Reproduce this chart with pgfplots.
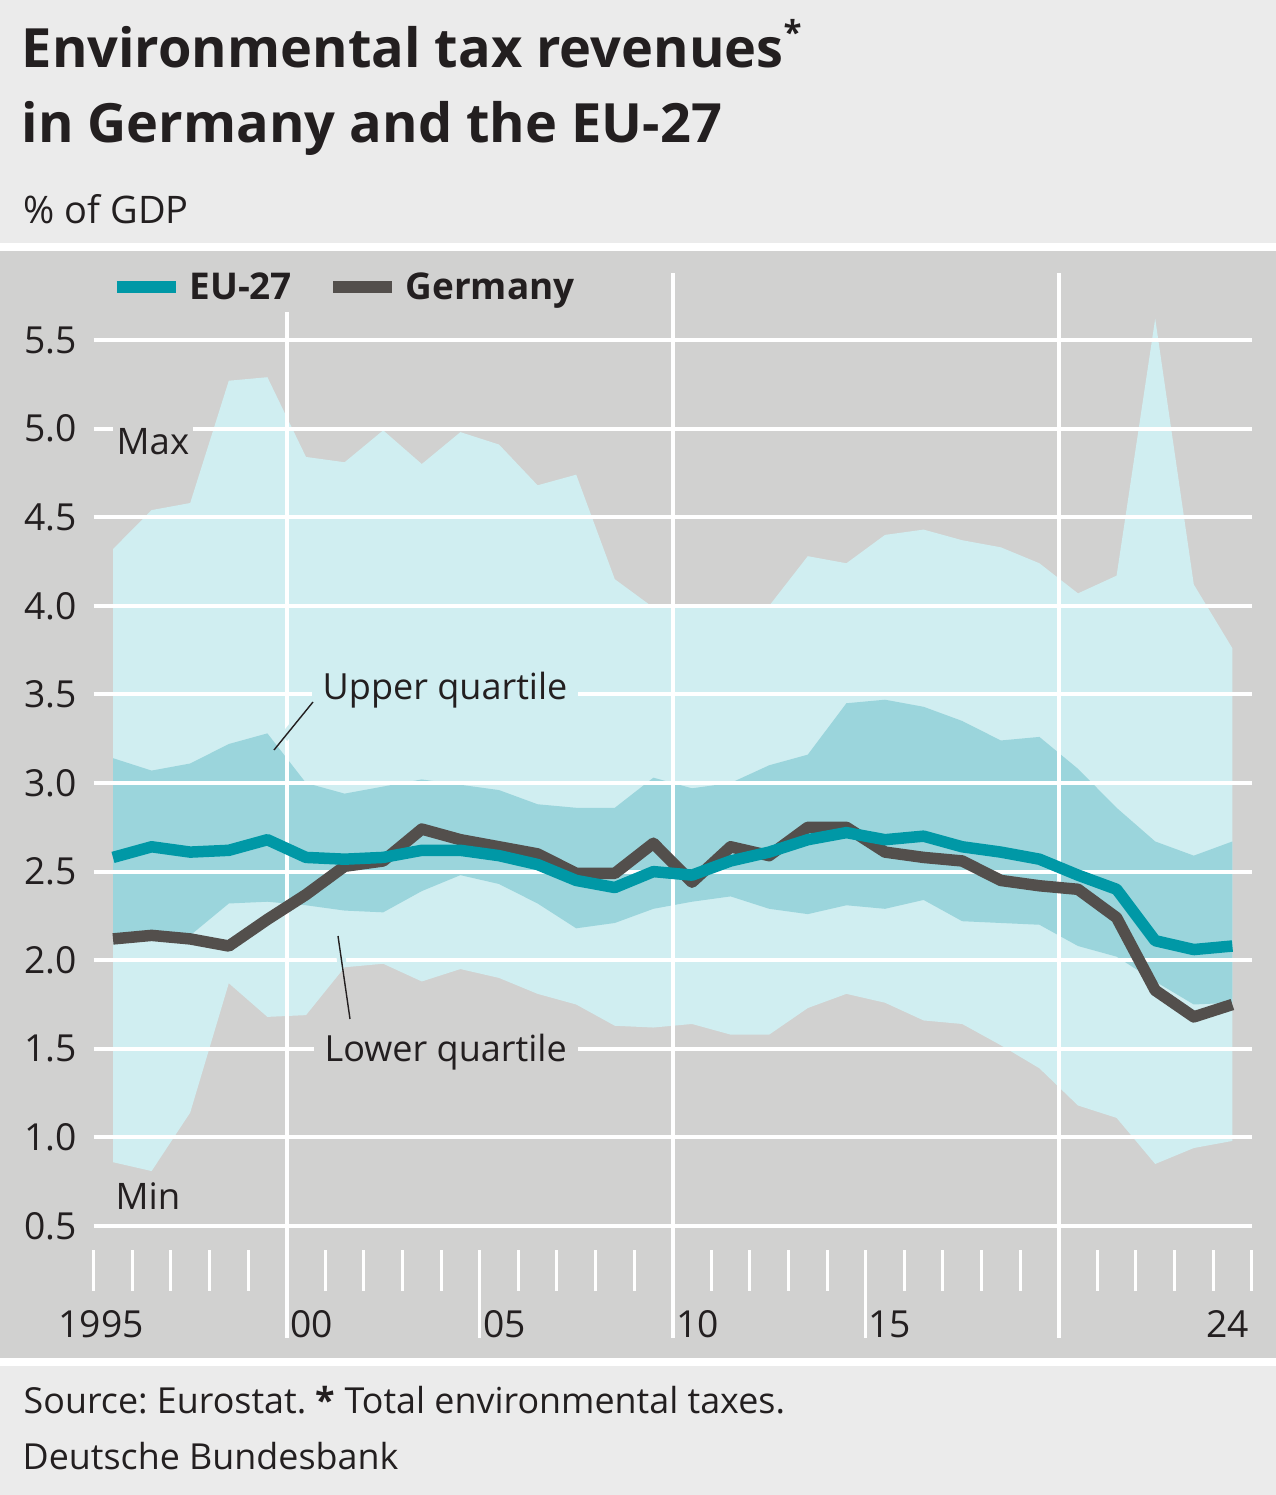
\documentclass[border=0pt]{standalone}
\usepackage{fontspec}
\setmainfont{Open Sans}
\usepackage{pgfplots}
\usepackage{pgfplotstable}
\pgfplotsset{compat=1.18}
\usepgfplotslibrary{fillbetween}
\frenchspacing

\definecolor{pagebg}{HTML}{EBEBEB}
\definecolor{panel}{HTML}{D1D1D0}
\definecolor{lightc}{HTML}{D0EEF1}
\definecolor{medc}{HTML}{9BD5DC}
\definecolor{euc}{HTML}{0098A6}
\definecolor{dec}{HTML}{534F4C}
\definecolor{txt}{HTML}{231F20}
\newcommand{\fs}[1]{\fontsize{#1}{#1}\selectfont}

\pgfplotstableread{
year  mx    mn    uq    lq    eu    de
1995  4.32  0.86  3.14  2.11  2.58  2.12
1996  4.54  0.81  3.07  2.13  2.64  2.14
1997  4.58  1.14  3.11  2.14  2.61  2.12
1998  5.27  1.87  3.22  2.32  2.62  2.08
1999  5.29  1.68  3.28  2.33  2.68  2.23
2000  4.84  1.69  3.00  2.31  2.58  2.37
2001  4.81  1.96  2.94  2.28  2.57  2.53
2002  4.99  1.98  2.98  2.27  2.58  2.56
2003  4.80  1.88  3.02  2.39  2.62  2.74
2004  4.98  1.95  2.99  2.48  2.62  2.68
2005  4.91  1.90  2.96  2.43  2.59  2.64
2006  4.68  1.81  2.88  2.32  2.54  2.60
2007  4.74  1.75  2.86  2.18  2.45  2.49
2008  4.15  1.63  2.86  2.21  2.41  2.49
2009  3.99  1.62  3.03  2.29  2.50  2.66
2010  3.99  1.64  2.97  2.33  2.48  2.44
2011  4.00  1.58  3.00  2.36  2.56  2.64
2012  4.00  1.58  3.10  2.29  2.61  2.59
2013  4.28  1.73  3.16  2.26  2.68  2.75
2014  4.24  1.81  3.45  2.31  2.72  2.75
2015  4.40  1.76  3.47  2.29  2.68  2.61
2016  4.43  1.66  3.43  2.34  2.70  2.58
2017  4.37  1.64  3.35  2.22  2.64  2.56
2018  4.33  1.52  3.24  2.21  2.61  2.45
2019  4.24  1.39  3.26  2.20  2.57  2.42
2020  4.07  1.18  3.08  2.08  2.48  2.40
2021  4.17  1.11  2.86  2.02  2.40  2.24
2022  5.62  0.85  2.67  1.88  2.11  1.83
2023  4.12  0.94  2.59  1.75  2.06  1.68
2024  3.76  0.98  2.67  1.76  2.08  1.75
}\data

\begin{document}
\begin{tikzpicture}[x=0.1mm,y=0.1mm]
\fill[pagebg] (0,0) rectangle (1276,1495);
\fill[white] (0,1244) rectangle (1276,1252);
\fill[panel] (0,137) rectangle (1276,1244);
\fill[white] (0,129) rectangle (1276,137);

\node[anchor=base west,inner sep=0pt,text=txt,font=\bfseries\fs{15.4}] at (21,1427)
  {Environmental tax revenues\raisebox{2.3mm}{\fs{9.4}*}};
\node[anchor=base west,inner sep=0pt,text=txt,font=\bfseries\fs{15.4}] at (21,1352)
  {in Germany and the EU-27};
\node[anchor=base west,inner sep=0pt,text=txt,font=\fs{10.8}] at (23,1271) {\% of GDP};

\begin{axis}[
  at={(9.37mm,26.9mm)}, anchor=south west,
  scale only axis, width=115.8mm, height=88.6mm,
  xmin=1994.5, xmax=2024.5, ymin=0.5, ymax=5.5,
  clip=false,
  axis line style={draw=none},
  tick style={draw=none},
  /pgf/number format/assume math mode=true,
  ytick={0.5,1.0,1.5,2.0,2.5,3.0,3.5,4.0,4.5,5.0,5.5},
  yticklabel={\pgfmathprintnumber[fixed,fixed zerofill,precision=1]{\tick}},
  yticklabel style={font=\fs{10.6}, text=txt, anchor=east, inner sep=0pt, xshift=-1.6mm},
  xtick={1994.69,2000.155,2005.155,2010.14,2015.12,2023.87},
  xticklabels={1995,00,05,10,15,24},
  xticklabel style={font=\fs{10.6}, text=txt, anchor=base, inner sep=0pt, yshift=-11.2mm},
  legend style={at={(rel axis cs:0.0149,1.0576)}, anchor=west, draw=none, fill=none,
    inner sep=0pt, outer sep=0pt, legend columns=-1, font=\bfseries\fs{10.5}, text=txt,
    nodes={inner sep=0pt},
    /tikz/every odd column/.append style={column sep=0.75mm},
    /tikz/every even column/.append style={column sep=3.5mm}},
  legend image code/.code={\draw[#1,line width=1.2mm,line cap=butt] (0mm,0.2mm) -- (5.9mm,0.2mm);},
]
\addplot[draw=none, name path=mx, forget plot] table[x=year,y=mx]{\data};
\addplot[draw=none, name path=mn, forget plot] table[x=year,y=mn]{\data};
\addplot[fill=lightc, draw=none, forget plot] fill between[of=mx and mn, on layer=main];
\addplot[draw=none, name path=uq, forget plot] table[x=year,y=uq]{\data};
\addplot[draw=none, name path=lq, forget plot] table[x=year,y=lq]{\data};
\addplot[fill=medc, draw=none, forget plot] fill between[of=uq and lq, on layer=main];

\pgfplotsinvokeforeach{0.5,1.0,1.5,2.0,2.5,3.0,3.5,4.0,4.5,5.0,5.5}{
  \draw[white, line width=0.4mm] (axis cs:1994.5,#1) -- (axis cs:2024.5,#1);
}
\pgfplotsinvokeforeach{1994.5,1995.5,1996.5,1997.5,1998.5,2000.5,2001.5,2002.5,2003.5,2005.5,2006.5,2007.5,2008.5,2010.5,2011.5,2012.5,2013.5,2015.5,2016.5,2017.5,2018.5,2020.5,2021.5,2022.5,2023.5,2024.5}{
  \draw[white, line width=0.3mm] (axis cs:#1,0.3646) -- (axis cs:#1,0.1332);
}
\pgfplotsinvokeforeach{2004.5,2014.5}{
  \draw[white, line width=0.3mm] (axis cs:#1,0.3646) -- (axis cs:#1,-0.132);
}
\draw[white, line width=0.4mm] (axis cs:1999.5,5.658) -- (axis cs:1999.5,-0.132);
\draw[white, line width=0.4mm] (axis cs:2009.5,5.878) -- (axis cs:2009.5,-0.132);
\draw[white, line width=0.4mm] (axis cs:2019.5,5.878) -- (axis cs:2019.5,-0.132);

\addlegendimage{euc}
\addlegendentry{EU-27}
\addlegendimage{dec}
\addlegendentry{Germany}

\addplot[dec, line width=1.15mm, line join=round, line cap=butt, forget plot] table[x=year,y=de]{\data};
\addplot[euc, line width=1.15mm, line join=round, line cap=butt, forget plot] table[x=year,y=eu]{\data};
\end{axis}

\node[anchor=base west,fill=panel,inner xsep=0.4mm,inner ysep=0.35mm,text=txt,font=\fs{10.4}] at (112,1040) {Max};
\node[anchor=base west,inner sep=0pt,text=txt,font=\fs{10.4}] at (115,285) {Min};
\node[anchor=base west,fill=lightc,inner xsep=1.1mm,inner ysep=0.4mm,text=txt,font=\fs{10.25}] at (311,795) {Upper quartile};
\node[anchor=base west,fill=panel,inner xsep=1.1mm,inner ysep=0.4mm,text=txt,font=\fs{10.25}] at (313,433) {Lower quartile};
\draw[lightc, line width=0.9mm] (283.75,757) -- (313,793);
\draw[txt, line width=0.14mm] (274,745) -- (313,793);
\draw[lightc, line width=0.9mm] (338,559) -- (342.3,529);
\draw[txt, line width=0.14mm] (338,559) -- (350,476);

\node[anchor=base west,inner sep=0pt,text=txt,font=\fs{10.2}] at (23,81) {Source: Eurostat. \textbf{*} Total environmental taxes.};
\node[anchor=base west,inner sep=0pt,text=txt,font=\fs{10.2}] at (22,25) {Deutsche Bundesbank};

\pgfresetboundingbox
\useasboundingbox (0,0) rectangle (1276,1495);
\end{tikzpicture}
\end{document}
